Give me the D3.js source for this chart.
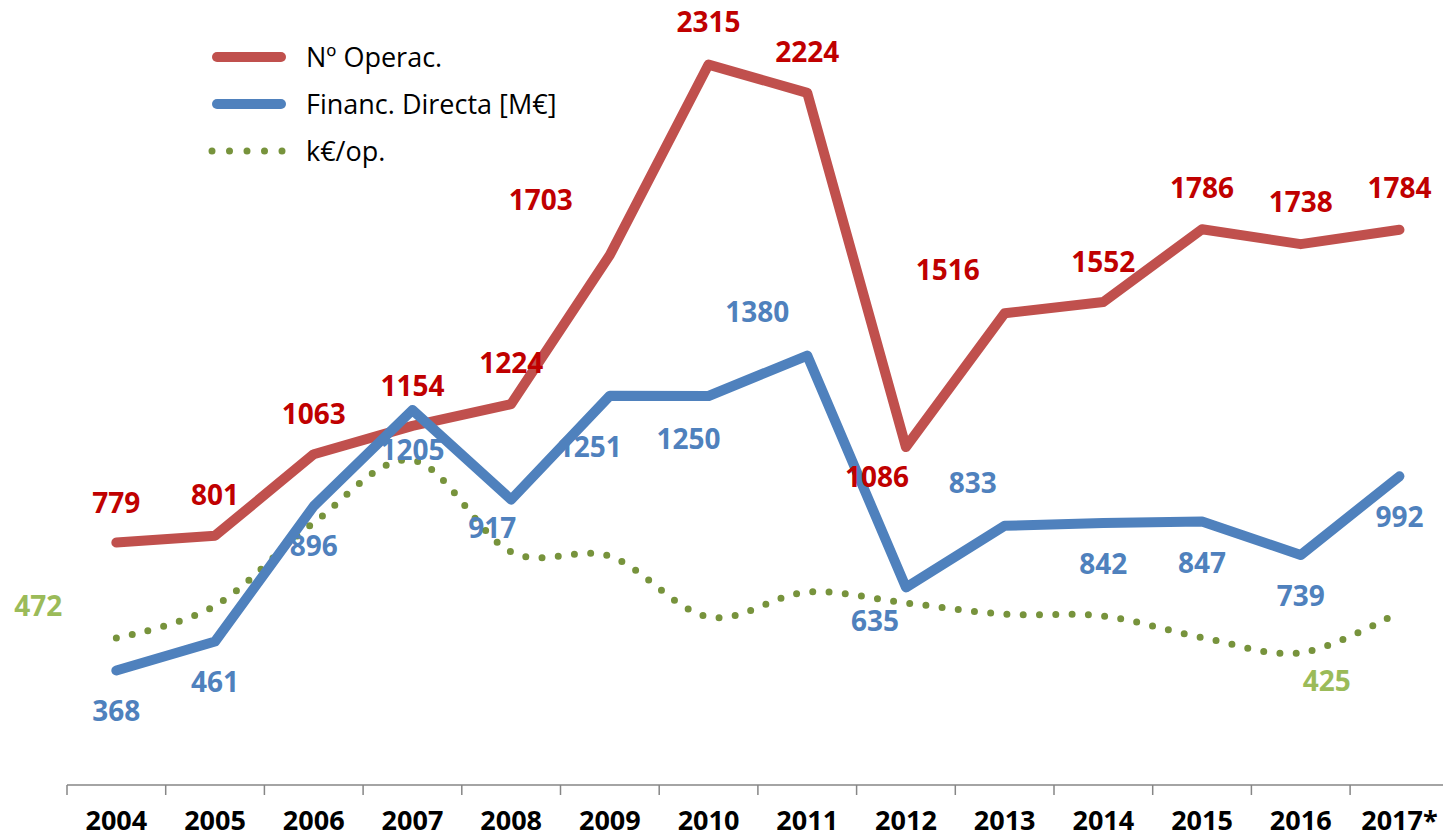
<!DOCTYPE html>
<html>
<head>
<meta charset="utf-8">
<script src="https://cdn.jsdelivr.net/npm/d3@7"></script>
<style>
  body { margin: 0; background: #fff; }
  text { font-family: "Open Sans", sans-serif; }
</style>
</head>
<body>
<div id="chart"></div>
<script>
// data
const years = ["2004", "2005", "2006", "2007", "2008", "2009", "2010", "2011", "2012", "2013", "2014", "2015", "2016", "2017*"];
const operaciones = [779, 801, 1063, 1154, 1224, 1703, 2315, 2224, 1086, 1516, 1552, 1786, 1738, 1784];
const financiacion = [368, 461, 896, 1205, 917, 1251, 1250, 1380, 635, 833, 842, 847, 739, 992];
const kEurPorOp = [472, 576, 843, 1044, 749, 735, 540, 620, 585, 549, 543, 474, 425, 556];
const kEurLabelIdx = [0, 12]; // only these points carry a label

// label placement relative to each point (hand placed, like the original)
const opLabelOffsets = [[0,-40],[0,-41],[0,-40],[0,-40],[0,-41],[-69,-55],[0,-43],[0,-41],[-29,30],[-57,-43],[0,-40],[0,-41],[0,-42],[0,-42]];
const finLabelOffsets = [[0,40],[0,40],[0,40],[0,40],[-19,28],[-20,51],[-20,43],[-50,-44],[-31,34],[-32,-43],[0,41],[0,42],[0,41],[0,41]];
const kLabelOffsets = {0: [-78, -32], 12: [26, 28]};

const width = 1443, height = 840;
const axisY = 785;

const svg = d3.select("#chart").append("svg")
  .attr("width", width)
  .attr("height", height);

const x = d3.scaleBand()
  .domain(years)
  .range([67, 67 + 98.7 * years.length])
  .padding(0);

const y = d3.scaleLinear()
  .domain([0, 2500])
  .range([axisY, 7]);

const cx = (d, i) => x(years[i]) + x.bandwidth() / 2;

// x axis with ticks between categories
const axisG = svg.append("g").attr("transform", `translate(0,${axisY})`);
axisG.append("line")
  .attr("x1", 67).attr("x2", width)
  .attr("stroke", "#868686").attr("stroke-width", 1.5);
axisG.selectAll(".tick")
  .data(years)
  .enter().append("line")
  .attr("x1", d => x(d)).attr("x2", d => x(d))
  .attr("y1", 0).attr("y2", 10)
  .attr("stroke", "#868686").attr("stroke-width", 1.5);
axisG.selectAll(".lab")
  .data(years)
  .enter().append("text")
  .attr("x", d => x(d) + x.bandwidth() / 2)
  .attr("y", 35)
  .attr("dy", "0.36em")
  .attr("text-anchor", "middle")
  .style("font-size", "27px")
  .style("font-weight", "bold")
  .attr("fill", "#000")
  .text(d => d);

const line = d3.line().x(cx).y(d => y(d));
const smooth = d3.line().x(cx).y(d => y(d)).curve(d3.curveCatmullRom.alpha(0));

// k€/op, dotted + smoothed
svg.append("path")
  .datum(kEurPorOp)
  .attr("d", smooth)
  .attr("fill", "none")
  .attr("stroke", "#77933c")
  .attr("stroke-width", 7)
  .attr("stroke-linecap", "round")
  .attr("stroke-dasharray", "0 16.3");

svg.append("path")
  .datum(operaciones)
  .attr("d", line)
  .attr("fill", "none")
  .attr("stroke", "#c0504d")
  .attr("stroke-width", 10)
  .attr("stroke-linecap", "round")
  .attr("stroke-linejoin", "round");

svg.append("path")
  .datum(financiacion)
  .attr("d", line)
  .attr("fill", "none")
  .attr("stroke", "#4f81bd")
  .attr("stroke-width", 10)
  .attr("stroke-linecap", "round")
  .attr("stroke-linejoin", "round");

// data labels
function addLabels(values, offsets, color, keep) {
  svg.append("g").selectAll("text")
    .data(values.map((v, i) => ({ v, i })).filter(d => keep ? keep.includes(d.i) : true))
    .enter().append("text")
    .attr("x", d => cx(d.v, d.i) + offsets[d.i][0])
    .attr("y", d => y(d.v) + offsets[d.i][1])
    .attr("dy", "0.36em")
    .attr("text-anchor", "middle")
    .style("font-size", "28px")
    .style("font-weight", "bold")
    .attr("fill", color)
    .text(d => d.v);
}
addLabels(operaciones, opLabelOffsets, "#c00000");
addLabels(financiacion, finLabelOffsets, "#4f81bd");
addLabels(kEurPorOp, kLabelOffsets, "#9bbb59", kEurLabelIdx);

// legend
const legend = [
  { name: "Nº Operac.", color: "#c0504d", dotted: false },
  { name: "Financ. Directa [M€]", color: "#4f81bd", dotted: false },
  { name: "k€/op.", color: "#77933c", dotted: true }
];
const lg = svg.append("g").selectAll("g")
  .data(legend)
  .enter().append("g")
  .attr("transform", (d, i) => `translate(0,${57 + i * 47})`);
lg.append("line")
  .attr("x1", d => d.dotted ? 212 : 217)
  .attr("x2", d => d.dotted ? 284 : 281)
  .attr("stroke", d => d.color)
  .attr("stroke-width", d => d.dotted ? 7 : 10)
  .attr("stroke-linecap", "round")
  .attr("stroke-dasharray", d => d.dotted ? "0 17.5" : null);
lg.append("text")
  .attr("x", 306)
  .attr("dy", "0.36em")
  .style("font-size", "27px")
  .attr("fill", "#000")
  .text(d => d.name);
</script>
</body>
</html>
